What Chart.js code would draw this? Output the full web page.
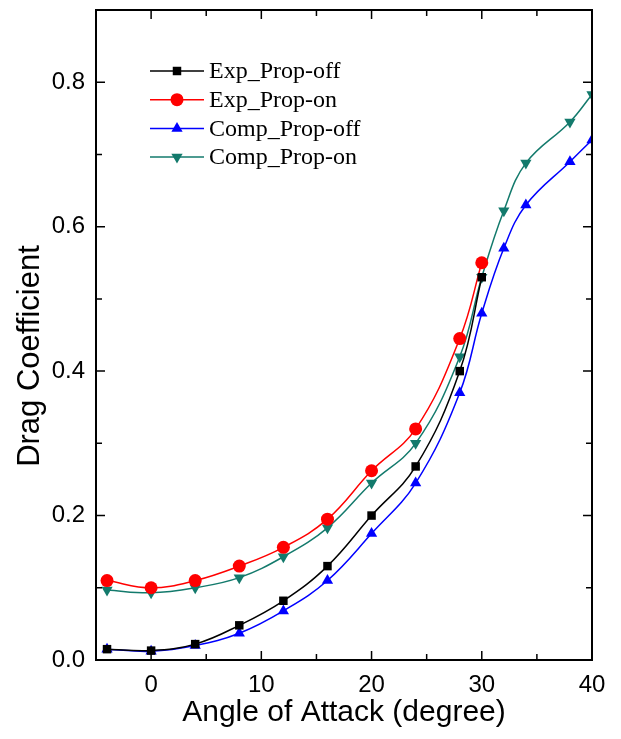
<!DOCTYPE html>
<html lang="en">
<head>
<meta charset="UTF-8" />
<title>Drag Coefficient</title>
<script src="https://cdn.jsdelivr.net/npm/chart.js@4.4.0/dist/chart.umd.min.js"></script>
<style>
    html, body { margin: 0; padding: 0; background: #fff; }
    #board { width: 621px; height: 739px; }
</style>
</head>
<body>
<div id="board">
    <canvas id="chart1" width="621" height="739"></canvas>
</div>
<script>
    // angle of attack values
    const expAngles = [-4, 0, 4, 8, 12, 16, 20, 24, 28, 30];
    const compAngles = [-4, 0, 4, 8, 12, 16, 20, 24, 28, 30, 32, 34, 38, 40];

    const expPropOff = [0.015, 0.013, 0.022, 0.048, 0.082, 0.13, 0.20, 0.268, 0.40, 0.53];
    const expPropOn = [0.11, 0.10, 0.11, 0.13, 0.156, 0.195, 0.262, 0.32, 0.445, 0.55];
    const compPropOff = [0.015, 0.012, 0.02, 0.037, 0.068, 0.11, 0.175, 0.245, 0.37, 0.48, 0.57, 0.63, 0.69, 0.72];
    const compPropOn = [0.097, 0.093, 0.10, 0.114, 0.143, 0.183, 0.245, 0.30, 0.42, 0.53, 0.622, 0.688, 0.745, 0.783];

    const xTicks = [0, 10, 20, 30, 40];
    const xMinor = [5, 15, 25, 35];
    const yTicks = [0.0, 0.2, 0.4, 0.6, 0.8];
    const yMinor = [0.1, 0.3, 0.5, 0.7];

    const sans = '"Liberation Sans", Arial, sans-serif';
    const toPoints = (xs, ys) => xs.map((x, i) => ({ x: x, y: ys[i] }));

    function series(label, xs, ys, color, style, rot) {
        return {
            label: label,
            data: toPoints(xs, ys),
            borderColor: color,
            backgroundColor: color,
            borderWidth: 1.5,
            pointStyle: style,
            pointRotation: rot || 0,
            pointRadius: style === 'rect' ? 6 : 6.5,
            pointBorderWidth: 0,
            tension: 0.4,
        };
    }

    // frame, inward ticks, y title and the legend (line + marker + text)
    const framePlugin = {
        id: 'frame',
        afterDraw(chart) {
            const ctx = chart.ctx;
            const a = chart.chartArea;
            const xs = chart.scales.x, ys = chart.scales.y;
            ctx.save();
            ctx.strokeStyle = '#000';
            ctx.lineWidth = 2;
            ctx.strokeRect(a.left, a.top, a.right - a.left, a.bottom - a.top);
            ctx.lineWidth = 1.5;
            ctx.beginPath();
            xTicks.concat(xMinor).forEach(v => {
                const p = xs.getPixelForValue(v);
                const len = xMinor.includes(v) ? 6 : 9;
                ctx.moveTo(p, a.bottom); ctx.lineTo(p, a.bottom - len);
                ctx.moveTo(p, a.top); ctx.lineTo(p, a.top + len);
            });
            yTicks.concat(yMinor).forEach(v => {
                const p = ys.getPixelForValue(v);
                const len = yMinor.includes(v) ? 6 : 9;
                ctx.moveTo(a.left, p); ctx.lineTo(a.left + len, p);
                ctx.moveTo(a.right, p); ctx.lineTo(a.right - len, p);
            });
            ctx.stroke();

            // y axis title
            ctx.save();
            ctx.translate(30, 356);
            ctx.rotate(-Math.PI / 2);
            ctx.font = '31px ' + sans;
            ctx.fillStyle = '#000';
            ctx.textAlign = 'center';
            ctx.textBaseline = 'middle';
            ctx.fillText('Drag Coefficient', 0, 0);
            ctx.restore();

            // legend
            ctx.font = '24px "Liberation Serif", "Times New Roman", serif';
            ctx.textBaseline = 'middle';
            chart.data.datasets.forEach((ds, i) => {
                const y = 71 + i * 28.7;
                ctx.strokeStyle = ds.borderColor;
                ctx.lineWidth = 1.5;
                ctx.beginPath();
                ctx.moveTo(150, y); ctx.lineTo(204, y);
                ctx.stroke();
                ctx.fillStyle = ds.backgroundColor;
                Chart.helpers.drawPoint(ctx, {
                    pointStyle: ds.pointStyle,
                    rotation: ds.pointRotation,
                    radius: ds.pointRadius,
                    borderWidth: 0,
                }, 177, y);
                ctx.fillStyle = '#000';
                ctx.fillText(ds.label, 209, y + 1);
            });
            ctx.restore();
        },
    };

    const ctx = document.getElementById('chart1').getContext('2d');
    new Chart(ctx, {
        type: 'line',
        data: {
            datasets: [
                series('Exp_Prop-off', expAngles, expPropOff, '#000000', 'rect'),
                series('Exp_Prop-on', expAngles, expPropOn, '#ff0000', 'circle'),
                series('Comp_Prop-off', compAngles, compPropOff, '#0000ff', 'triangle'),
                series('Comp_Prop-on', compAngles, compPropOn, '#137a6c', 'triangle', 180),
            ],
        },
        options: {
            responsive: false,
            animation: false,
            layout: { padding: { left: 0, right: 29, top: 10, bottom: 0 } },
            plugins: {
                legend: { display: false },
                tooltip: { enabled: false },
            },
            scales: {
                x: {
                    type: 'linear',
                    min: -5,
                    max: 40,
                    afterBuildTicks: s => { s.ticks = xTicks.map(v => ({ value: v })); },
                    afterFit: s => { s.height = 79; s.paddingLeft = 0; s.paddingRight = 0; },
                    grid: { display: false, drawTicks: false },
                    border: { display: false },
                    ticks: {
                        padding: 11,
                        color: '#000',
                        font: { family: sans, size: 24 },
                    },
                    title: {
                        display: true,
                        text: 'Angle of Attack (degree)',
                        color: '#000',
                        font: { family: sans, size: 30 },
                        padding: { top: 0, bottom: 8 },
                    },
                },
                y: {
                    type: 'linear',
                    min: 0,
                    max: 0.9,
                    afterBuildTicks: s => { s.ticks = yTicks.map(v => ({ value: v })); },
                    afterFit: s => { s.width = 96; s.paddingTop = 0; s.paddingBottom = 0; },
                    grid: { display: false, drawTicks: false },
                    border: { display: false },
                    ticks: {
                        padding: 11,
                        color: '#000',
                        callback: v => v.toFixed(1),
                        font: { family: sans, size: 24 },
                    },
                },
            },
        },
        plugins: [framePlugin],
    });
</script>
</body>
</html>
